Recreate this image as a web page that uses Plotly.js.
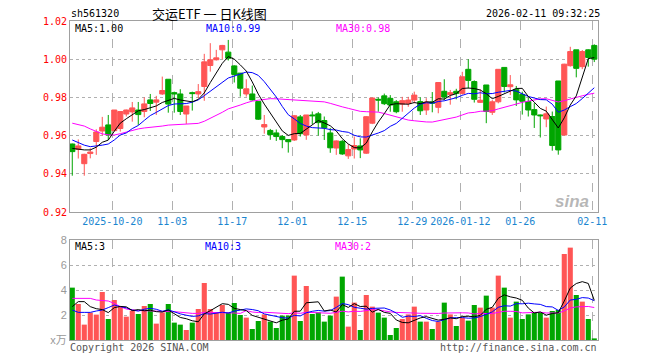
<!DOCTYPE html>
<html>
<head>
<meta charset="utf-8">
<script src="https://cdn.plot.ly/plotly-3.0.1.min.js"></script>
<style>html,body{margin:0;padding:0;background:#fff;}#chart{width:660px;height:360px;}</style>
</head>
<body>
<div id="chart"></div>
<script>
// ---- data ----
const dates = [
'2025-10-09','2025-10-10','2025-10-13','2025-10-14','2025-10-15','2025-10-16','2025-10-17','2025-10-20','2025-10-21','2025-10-22',
'2025-10-23','2025-10-24','2025-10-27','2025-10-28','2025-10-29','2025-10-30','2025-10-31','2025-11-03','2025-11-04','2025-11-05',
'2025-11-06','2025-11-07','2025-11-10','2025-11-11','2025-11-12','2025-11-13','2025-11-14','2025-11-17','2025-11-18','2025-11-19',
'2025-11-20','2025-11-21','2025-11-24','2025-11-25','2025-11-26','2025-11-27','2025-11-28','2025-12-01','2025-12-02','2025-12-03',
'2025-12-04','2025-12-05','2025-12-08','2025-12-09','2025-12-10','2025-12-11','2025-12-12','2025-12-15','2025-12-16','2025-12-17',
'2025-12-18','2025-12-19','2025-12-22','2025-12-23','2025-12-24','2025-12-25','2025-12-26','2025-12-29','2025-12-30','2025-12-31',
'2026-01-05','2026-01-06','2026-01-07','2026-01-08','2026-01-09','2026-01-12','2026-01-13','2026-01-14','2026-01-15','2026-01-16',
'2026-01-19','2026-01-20','2026-01-21','2026-01-22','2026-01-23','2026-01-26','2026-01-27','2026-01-28','2026-01-29','2026-01-30',
'2026-02-02','2026-02-03','2026-02-04','2026-02-05','2026-02-06','2026-02-09','2026-02-10','2026-02-11'];

const openP = [
0.9556,0.9528,0.9453,0.9506,0.9569,0.9624,0.9656,0.9626,0.9637,0.9713,
0.9724,0.9734,0.9726,0.9787,0.9775,0.9818,0.9895,0.9825,0.9818,0.9713,
0.9825,0.9818,0.9857,0.9967,0.9997,1.0049,1.0037,0.9965,0.9927,0.9818,
0.9818,0.9778,0.9645,0.9627,0.9614,0.9595,0.9579,0.9577,0.9698,0.9603,
0.9708,0.9714,0.9679,0.9614,0.9535,0.9570,0.9494,0.9530,0.9546,0.9508,
0.9665,0.9790,0.9808,0.9795,0.9777,0.9765,0.9769,0.9786,0.9778,0.9734,
0.9776,0.9748,0.9832,0.9815,0.9832,0.9821,0.9947,0.9883,0.9774,0.9865,
0.9722,0.9777,0.9957,0.9856,0.9842,0.9815,0.9778,0.9736,0.9708,0.9687,
0.9700,0.9886,0.9603,0.9966,1.0049,0.9961,1.0049,1.0072];

const closeP = [
0.9516,0.9546,0.9502,0.9514,0.9619,0.9644,0.9603,0.9734,0.9726,0.9734,
0.9745,0.9710,0.9766,0.9768,0.9787,0.9836,0.9765,0.9818,0.9726,0.9755,
0.9820,0.9830,0.9986,0.9997,1.0007,1.0072,1.0005,0.9920,0.9848,0.9845,
0.9787,0.9686,0.9658,0.9605,0.9595,0.9579,0.9568,0.9704,0.9610,0.9708,
0.9704,0.9668,0.9641,0.9536,0.9572,0.9504,0.9527,0.9548,0.9525,0.9699,
0.9797,0.9786,0.9767,0.9760,0.9725,0.9783,0.9786,0.9812,0.9730,0.9775,
0.9770,0.9878,0.9802,0.9825,0.9821,0.9908,0.9889,0.9790,0.9785,0.9726,
0.9777,0.9947,0.9857,0.9866,0.9787,0.9780,0.9734,0.9708,0.9704,0.9714,
0.9548,0.9525,0.9974,1.0040,0.9952,1.0040,1.0009,1.0000];

const highP = [
0.9558,0.9580,0.9505,0.9534,0.9633,0.9698,0.9708,0.9734,0.9726,0.9736,
0.9776,0.9776,0.9800,0.9818,0.9808,0.9909,0.9895,0.9830,0.9843,0.9755,
0.9830,0.9870,1.0028,1.0084,1.0049,1.0075,1.0101,0.9968,0.9927,0.9895,
0.9862,0.9778,0.9708,0.9635,0.9632,0.9603,0.9579,0.9708,0.9708,0.9708,
0.9726,0.9724,0.9700,0.9640,0.9575,0.9577,0.9555,0.9595,0.9586,0.9702,
0.9798,0.9800,0.9820,0.9812,0.9786,0.9803,0.9803,0.9830,0.9800,0.9796,
0.9828,0.9878,0.9895,0.9839,0.9845,0.9934,1.0000,0.9889,0.9843,0.9865,
0.9786,0.9947,0.9957,0.9917,0.9860,0.9830,0.9800,0.9770,0.9710,0.9752,
0.9726,0.9886,0.9976,1.0065,1.0049,1.0048,1.0052,1.0078];

const lowP = [
0.9390,0.9480,0.9390,0.9481,0.9499,0.9600,0.9577,0.9620,0.9621,0.9700,
0.9673,0.9656,0.9696,0.9729,0.9708,0.9813,0.9720,0.9720,0.9708,0.9661,
0.9731,0.9796,0.9782,0.9935,0.9993,1.0000,0.9993,0.9878,0.9804,0.9804,
0.9783,0.9682,0.9610,0.9578,0.9572,0.9534,0.9511,0.9572,0.9595,0.9578,
0.9660,0.9600,0.9577,0.9510,0.9499,0.9499,0.9478,0.9480,0.9482,0.9504,
0.9660,0.9725,0.9760,0.9725,0.9717,0.9725,0.9751,0.9769,0.9708,0.9708,
0.9722,0.9717,0.9785,0.9762,0.9790,0.9814,0.9847,0.9773,0.9771,0.9665,
0.9708,0.9769,0.9826,0.9812,0.9755,0.9710,0.9700,0.9640,0.9590,0.9644,
0.9521,0.9500,0.9600,0.9961,0.9905,0.9948,0.9961,0.9985];

// volume (x万)
const volume = [
4.19,2.88,1.23,2.19,2.03,3.84,1.68,3.20,2.67,1.87,
2.35,2.08,2.72,2.88,1.31,2.21,2.88,1.39,1.23,0.80,
1.39,2.48,4.56,2.48,2.21,2.80,2.21,2.96,2.00,1.79,
0.88,1.52,2.05,1.47,0.96,1.95,1.95,5.15,1.52,4.32,
2.08,2.21,1.47,1.95,3.47,5.07,1.07,2.99,0.80,3.60,
2.67,2.19,1.79,0.40,0.96,1.68,2.05,2.67,1.47,1.47,
0.88,1.47,2.99,2.05,1.12,1.79,1.55,2.80,2.59,3.55,
2.59,5.15,4.19,1.79,3.07,1.68,2.05,2.21,2.21,1.79,
2.32,2.40,6.88,7.39,3.60,3.07,1.68,0.13];

// moving-average values at the window start (data before the window is not shown)
const ma5Head = [0.9533,0.9528,0.9525,0.9525];
const ma10Head = [0.9577,0.9563,0.9550,0.9542,0.9545,0.9550,0.9556,0.9577,0.9603];
const ma30Head = [0.9665,0.9658,0.9650,0.9635,0.9622,0.9609,0.9604,0.9603,0.9610,0.9619,
                  0.9628,0.9635,0.9640,0.9643,0.9644,0.9650,0.9655,0.9657,0.9660,0.9660,
                  0.9661,0.9664,0.9675,0.9690,0.9706,0.9722,0.9740,0.9752,0.9760];
const vma5Head = [2.67,3.07,3.07,2.67];
const vma10Head = [2.40,2.21,2.21,2.21,2.32,2.40,2.59,2.80,2.67];
const vma30Head = [3.33,3.33,3.33,3.33,3.20,3.15,3.12,2.93,2.67,2.48,
                   2.40,2.35,2.35,2.32,2.32,2.27,2.27,2.27,2.21,2.21,
                   2.13,2.13,2.21,2.21,2.21,2.19,2.19,2.16,2.13];

const tickDates = ['2025-10-20','2025-11-03','2025-11-17','2025-12-01','2025-12-15','2025-12-29','2026-01-12','2026-01-26','2026-02-11'];
const tickLabels = ['2025-10-20','11-03','11-17','12-01','12-15','12-29','2026-01-12','01-26','02-11'];
const priceTicks = [0.92,0.94,0.96,0.98,1.00,1.02];
const volTicks = [0,2,4,6,8];
const volTickLabels = ['x万','2','4','6','8'];

const headerCode = 'sh561320';
const headerTitle = '交运ETF 一 日K线图';
const headerTime = '2026-02-11 09:32:25';

// ---- build ----
function movingAvg(vals, n, head) {
  return vals.map((v, i) => {
    if (i < n - 1) return head[i];
    let s = 0; for (let k = i - n + 1; k <= i; k++) s += vals[k];
    return s / n;
  });
}
const idx = dates.map((d, i) => i);
const ma5 = movingAvg(closeP, 5, ma5Head);
const ma10 = movingAvg(closeP, 10, ma10Head);
const ma30 = movingAvg(closeP, 30, ma30Head);
const vma5 = movingAvg(volume, 5, vma5Head);
const vma10 = movingAvg(volume, 10, vma10Head);
const vma30 = movingAvg(volume, 30, vma30Head);
const last = a => a[a.length - 1];

const RED = '#ff5555', GREEN = '#00a600';
const volColors = closeP.map((c, i) => (c >= openP[i] ? RED : GREEN));
const tickPos = tickDates.map(d => dates.indexOf(d) - 0.33);

const mono = 'DejaVu Sans Mono, Liberation Mono, monospace';

const traces = [
  {type: 'candlestick', x: idx, open: openP, high: highP, low: lowP, close: closeP,
   xaxis: 'x', yaxis: 'y', whiskerwidth: 0,
   increasing: {line: {color: RED, width: 1}, fillcolor: RED},
   decreasing: {line: {color: GREEN, width: 1}, fillcolor: GREEN},
   hoverinfo: 'skip', showlegend: false},
  {type: 'scatter', mode: 'lines', x: idx, y: ma30, xaxis: 'x', yaxis: 'y', line: {color: '#ff00ff', width: 1}, hoverinfo: 'skip'},
  {type: 'scatter', mode: 'lines', x: idx, y: ma10, xaxis: 'x', yaxis: 'y', line: {color: '#0000ff', width: 1}, hoverinfo: 'skip'},
  {type: 'scatter', mode: 'lines', x: idx, y: ma5, xaxis: 'x', yaxis: 'y', line: {color: '#000000', width: 1}, hoverinfo: 'skip'},
  {type: 'bar', x: idx, y: volume, xaxis: 'x2', yaxis: 'y2', marker: {color: volColors, line: {width: 0}}, hoverinfo: 'skip'},
  {type: 'scatter', mode: 'lines', x: idx, y: vma30, xaxis: 'x2', yaxis: 'y2', line: {color: '#ff00ff', width: 1}, hoverinfo: 'skip'},
  {type: 'scatter', mode: 'lines', x: idx, y: vma10, xaxis: 'x2', yaxis: 'y2', line: {color: '#0000ff', width: 1}, hoverinfo: 'skip'},
  {type: 'scatter', mode: 'lines', x: idx, y: vma5, xaxis: 'x2', yaxis: 'y2', line: {color: '#000000', width: 1}, hoverinfo: 'skip'}
];

// plot area: x 70..598, y 21..340 px
const L = 70, R = 598, T = 21, B = 340;
const px = x => (x - L) / (R - L);
const py = y => (B - y) / (B - T);
const xr = [-0.38, dates.length - 1 + 0.62];

function ann(text, x, y, color, anchor, font, size, extra) {
  return Object.assign({text: text, x: px(x), y: py(y), xref: 'paper', yref: 'paper',
    xanchor: anchor, yanchor: 'middle', showarrow: false,
    font: {family: font || mono, size: size || 10, color: color}}, extra || {});
}

const layout = {
  width: 660, height: 360,
  margin: {l: L, r: 660 - R, t: T, b: 360 - B, pad: 0},
  paper_bgcolor: '#ffffff', plot_bgcolor: '#ffffff',
  showlegend: false, hovermode: false,
  boxgap: 0.15, boxgroupgap: 0, bargap: 0.15,
  xaxis: {domain: [0, 1], anchor: 'y', range: xr, rangeslider: {visible: false},
          tickmode: 'array', tickvals: tickPos, ticktext: tickLabels,
          tickfont: {family: mono, size: 10, color: '#1a86d0'}, ticks: '',
          showgrid: true, gridcolor: '#b0b0b0', griddash: 'dash', gridwidth: 1,
          showline: true, mirror: true, linecolor: '#a0a0a0', linewidth: 1, zeroline: false},
  xaxis2: {domain: [0, 1], anchor: 'y2', range: xr, matches: 'x', showticklabels: false,
           tickmode: 'array', tickvals: tickPos, ticks: '',
           showgrid: true, gridcolor: '#b0b0b0', griddash: 'dash', gridwidth: 1,
           showline: true, mirror: true, linecolor: '#a0a0a0', linewidth: 1, zeroline: false},
  yaxis: {domain: [py(212), 1], anchor: 'x', range: [0.92, 1.02],
          tickmode: 'array', tickvals: priceTicks, ticktext: priceTicks.map(v => v.toFixed(2)),
          tickfont: {family: mono, size: 10, color: '#ff0000'}, ticks: '',
          showgrid: true, gridcolor: '#b0b0b0', griddash: 'dot', gridwidth: 1,
          showline: true, mirror: true, linecolor: '#a0a0a0', linewidth: 1, zeroline: false},
  yaxis2: {domain: [0, py(240)], anchor: 'x2', range: [0, 8],
           tickmode: 'array', tickvals: volTicks, ticktext: volTickLabels,
           tickfont: {family: 'Liberation Sans, Noto Sans CJK SC, sans-serif', size: 11, color: '#999999'}, ticks: '',
           showgrid: true, gridcolor: '#b0b0b0', griddash: 'dot', gridwidth: 1,
           showline: true, mirror: true, linecolor: '#a0a0a0', linewidth: 1, zeroline: false},
  annotations: [
    ann(headerCode, 69, 13, '#000000', 'left'),
    ann(headerTitle, 209, 13, '#000000', 'center', 'Noto Sans CJK SC, sans-serif', 13),
    ann(headerTime, 602, 13, '#000000', 'right'),
    ann('MA5:' + last(ma5).toFixed(2), 73, 28, '#000000', 'left'),
    ann('MA10:' + last(ma10).toFixed(2), 204, 28, '#0000ff', 'left'),
    ann('MA30:' + last(ma30).toFixed(2), 334, 28, '#ff00ff', 'left'),
    ann('MA5:' + Math.floor(last(vma5)), 73, 247, '#000000', 'left'),
    ann('MA10:' + Math.floor(last(vma10)), 203, 247, '#0000ff', 'left'),
    ann('MA30:' + Math.floor(last(vma30)), 333, 247, '#ff00ff', 'left'),
    ann('Copyright 2026 SINA.COM', 68, 347, '#555555', 'left'),
    ann('http://finance.sina.com.cn', 599, 347, '#555555', 'right'),
    ann('<b><i>sina</i></b>', 572, 201, 'rgba(170,170,170,0.85)', 'center', 'Liberation Sans, sans-serif', 17)
  ]
};

Plotly.newPlot('chart', traces, layout, {staticPlot: true, displayModeBar: false});
</script>
</body>
</html>
